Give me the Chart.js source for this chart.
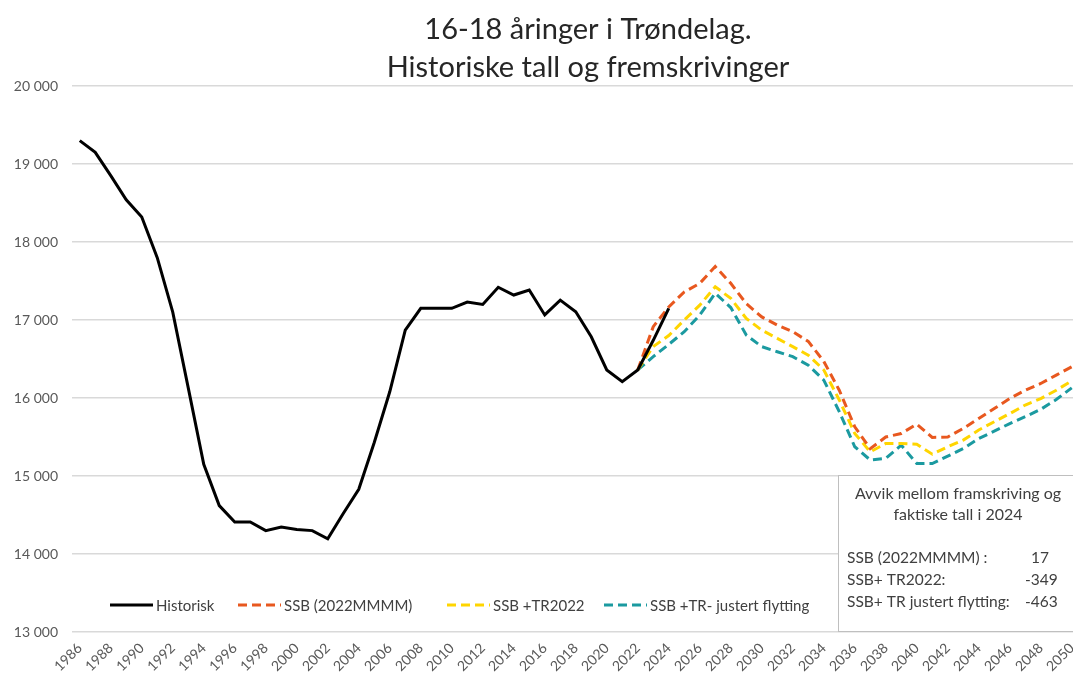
<!DOCTYPE html>
<html>
<head>
<meta charset="utf-8">
<script src="https://cdn.jsdelivr.net/npm/chart.js@4.4.0/dist/chart.umd.min.js"></script>
<style>
  html, body { margin:0; padding:0; background:#fff; overflow:hidden; }
</style>
</head>
<body>
<canvas id="chart" width="1073" height="678"></canvas>
<script>
// --- data ---
const histYears = [1986,1987,1988,1989,1990,1991,1992,1993,1994,1995,1996,1997,1998,1999,2000,
  2001,2002,2003,2004,2005,2006,2007,2008,2009,2010,2011,2012,2013,2014,2015,2016,2017,2018,
  2019,2020,2021,2022,2023,2024];
const historisk = [19300,19150,18850,18540,18320,17800,17100,16130,15150,14620,14410,14410,14300,14345,14315,
  14300,14195,14520,14830,15430,16080,16870,17150,17150,17150,17230,17200,17420,17320,17385,17065,17255,17105,
  16785,16360,16210,16360,16740,17150];

const projYears = [2022,2023,2024,2025,2026,2027,2028,2029,2030,2031,2032,2033,2034,2035,2036,2037,
  2038,2039,2040,2041,2042,2043,2044,2045,2046,2047,2048,2049,2050];
const ssb = [16360,16915,17167,17360,17470,17685,17470,17210,17040,16935,16850,16725,16470,16100,15630,15350,
  15500,15545,15665,15495,15500,15610,15737,15865,15993,16100,16186,16293,16400];
const ssbTr = [16360,16660,16801,17000,17190,17427,17277,17020,16870,16765,16658,16550,16360,15975,15545,15310,
  15417,15417,15408,15280,15375,15460,15590,15695,15800,15910,15993,16100,16220];
const ssbTrFlytt = [16360,16530,16687,16850,17064,17342,17160,16807,16658,16593,16530,16420,16230,15825,15375,15205,
  15225,15395,15160,15160,15255,15352,15480,15575,15672,15760,15855,15980,16130];

const tickYears = [1986,1988,1990,1992,1994,1996,1998,2000,2002,2004,2006,2008,2010,2012,2014,2016,
  2018,2020,2022,2024,2026,2028,2030,2032,2034,2036,2038,2040,2042,2044,2046,2048,2050];

const seriesNames = ['Historisk','SSB (2022MMMM)','SSB +TR2022','SSB +TR- justert flytting'];
const titleLines = ['16-18 åringer i Trøndelag.','Historiske tall og fremskrivinger'];
const boxHeading = ['Avvik mellom framskriving og','faktiske tall i 2024'];
const boxLabels = ['SSB (2022MMMM) :','SSB+ TR2022:','SSB+ TR justert flytting:'];
const boxValues = ['17','-349','-463'];

const FONT = 'Lato, "Open Sans", sans-serif';
const colors = ['#000000','#E8581F','#FFD500','#1B9AA0'];
const DASH = [9,5];

function pts(xs, ys){ return xs.map((x,i) => ({x, y: ys[i]})); }
function fmt(v){ return String(v).replace(/\B(?=(\d{3})+(?!\d))/g,' '); }

const datasets = [
  { label: seriesNames[0], data: pts(histYears, historisk), borderColor: colors[0], borderWidth: 3 },
  { label: seriesNames[1], data: pts(projYears, ssb), borderColor: colors[1], borderWidth: 3, borderDash: DASH },
  { label: seriesNames[2], data: pts(projYears, ssbTr), borderColor: colors[2], borderWidth: 3, borderDash: DASH },
  { label: seriesNames[3], data: pts(projYears, ssbTrFlytt), borderColor: colors[3], borderWidth: 3, borderDash: DASH }
].map(d => Object.assign(d, { pointRadius: 0, tension: 0, fill: false }));

// title, in-plot legend and the text box
const decorations = {
  id: 'decorations',
  afterDraw(chart){
    const c = chart.ctx;
    c.save();
    // title
    c.fillStyle = '#262626';
    c.font = '29px ' + FONT;
    c.textAlign = 'center';
    c.textBaseline = 'alphabetic';
    c.fillText(titleLines[0], 588, 39);
    c.fillText(titleLines[1], 588, 77);

    // legend (inside plot, Excel-style)
    c.font = '15px ' + FONT;
    c.textAlign = 'left';
    c.textBaseline = 'middle';
    const ly = 605;
    const legendX = [110, 238, 447, 604];
    chart.data.datasets.forEach((ds, i) => {
      const lx = legendX[i];
      c.beginPath();
      c.strokeStyle = ds.borderColor;
      c.lineWidth = 3;
      c.setLineDash(ds.borderDash || []);
      c.moveTo(lx, ly); c.lineTo(lx + 43, ly);
      c.stroke();
      c.setLineDash([]);
      c.fillStyle = '#404040';
      c.fillText(ds.label, lx + 46, ly + 1);
    });

    // text box
    c.fillStyle = '#fff';
    c.fillRect(838.5, 475.5, 240, 156);
    c.strokeStyle = '#bfbfbf';
    c.lineWidth = 1;
    c.strokeRect(838.5, 475.5, 240, 156);
    c.fillStyle = '#404040';
    c.font = '16px ' + FONT;
    c.textAlign = 'center';
    c.fillText(boxHeading[0], 958, 494);
    c.fillText(boxHeading[1], 958, 515);
    c.font = '15.5px ' + FONT;
    c.textAlign = 'left';
    boxLabels.forEach((t, i) => {
      const y = 558 + i * 22;
      c.fillText(t, 847, y);
      c.fillText(boxValues[i], i === 0 ? 1031 : 1025, y);
    });
    c.restore();
  }
};

new Chart(document.getElementById('chart'), {
  type: 'line',
  data: { datasets },
  options: {
    responsive: false,
    animation: false,
    layout: { padding: { top: 86, left: 0, right: 0, bottom: 0 } },
    plugins: { legend: { display: false }, title: { display: false }, tooltip: { enabled: false } },
    scales: {
      x: {
        type: 'linear', min: 1985.5, max: 2050.08,
        afterBuildTicks: s => { s.ticks = tickYears.map(v => ({ value: v })); },
        afterFit: s => { s.height = 46; s.paddingLeft = 0; s.paddingRight = 0; },
        grid: { display: false, drawTicks: false },
        border: { display: false },
        ticks: { autoSkip: false, minRotation: 45, maxRotation: 45, padding: 8,
                 color: '#595959', font: { family: FONT, size: 14 }, callback: v => String(v) }
      },
      y: {
        min: 13000, max: 20000,
        afterFit: s => { s.width = 72; },
        grid: { color: '#d9d9d9', lineWidth: 1.5, drawTicks: false },
        border: { display: false },
        ticks: { stepSize: 1000, padding: 14, color: '#595959',
                 font: { family: FONT, size: 14 }, callback: v => fmt(v) }
      }
    }
  },
  plugins: [decorations]
});
</script>
</body>
</html>
